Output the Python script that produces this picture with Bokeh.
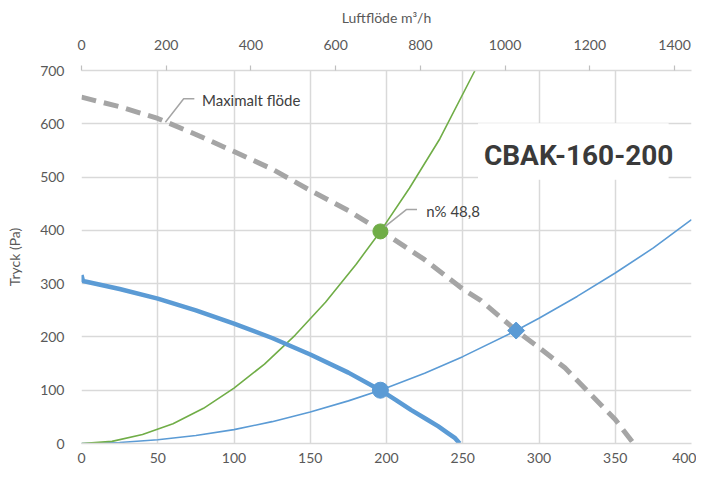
from bokeh.plotting import figure
from bokeh.models import Range1d, LinearAxis, SingleIntervalTicker, Label, BoxAnnotation
from bokeh.embed import file_html
from bokeh.resources import INLINE

# ---- data (flow in l/s, pressure in Pa) ----
max_flow_x = [0, 25, 50, 75, 100, 125, 150, 175, 196, 225, 250, 262, 285, 300, 317, 331, 350, 362]
max_flow_y = [650, 632, 610, 580, 548, 515, 475, 437, 400, 345, 290, 268, 212, 180, 142, 101, 45, 0]

fan_x = [0, 1, 25, 50, 75, 100, 125, 150, 175, 196, 206, 216, 226, 234, 240, 245, 248]
fan_y = [316, 305, 290, 272, 250, 225, 198, 167, 133, 100, 82, 63, 46, 32, 20, 10, 0]

sys_green_x = [0, 20, 40, 60, 80, 100, 120, 140, 160, 180, 196, 215, 235, 258]
sys_green_y = [0, 4, 17, 37, 66, 104, 149, 203, 265, 336, 398, 479, 572, 700]

sys_blue_x = [0, 25, 50, 75, 100, 125, 150, 175, 196, 225, 250, 285, 300, 325, 350, 375, 400]
sys_blue_y = [0, 2, 7, 15, 26, 41, 59, 80, 100, 132, 163, 212, 235, 276, 320, 367, 420]

green_pt_x = [196]
green_pt_y = [398]
blue_pt_x = [196]
blue_pt_y = [100]
diamond_x = [285]
diamond_y = [212]

LS_TO_M3H = 3.6
x_max = 400
y_max = 700

GRID = "#d9d9d9"
TXT = "#595959"
FONT = "Lato"

p = figure(width=696, height=465, output_backend="svg", toolbar_location=None,
           x_range=Range1d(0, x_max), y_range=Range1d(0, y_max),
           min_border_left=81, min_border_right=5, min_border_top=70, min_border_bottom=20,
           x_axis_location="below", y_axis_location="left")
p.outline_line_color = None
p.background_fill_color = "white"
p.border_fill_color = "white"

p.extra_x_ranges = {"m3h": Range1d(0, x_max * LS_TO_M3H)}

# bottom axis
xa = p.xaxis[0]
xa.ticker = SingleIntervalTicker(interval=50)
xa.axis_line_color = GRID
xa.axis_line_width = 1.5
xa.major_tick_line_color = None
xa.minor_tick_line_color = None
xa.major_label_text_font = FONT
xa.major_label_text_font_size = "14px"
xa.major_label_text_color = TXT
xa.major_label_standoff = 3

# left axis
ya = p.yaxis[0]
ya.ticker = SingleIntervalTicker(interval=100)
ya.axis_line_color = None
ya.major_tick_line_color = None
ya.minor_tick_line_color = None
ya.major_label_text_font = FONT
ya.major_label_text_font_size = "14px"
ya.major_label_text_color = TXT
ya.major_label_standoff = 11
ya.axis_label = "Tryck (Pa)"
ya.axis_label_text_font = FONT
ya.axis_label_text_font_size = "14px"
ya.axis_label_text_font_style = "normal"
ya.axis_label_text_color = TXT
ya.axis_label_standoff = 14

# top axis
ta = LinearAxis(x_range_name="m3h", ticker=SingleIntervalTicker(interval=200))
ta.axis_line_color = GRID
ta.axis_line_width = 1.5
ta.major_tick_line_color = "#bfbfbf"
ta.major_tick_line_width = 1.2
ta.major_tick_in = 0
ta.major_tick_out = 5
ta.minor_tick_line_color = None
ta.major_label_text_font = FONT
ta.major_label_text_font_size = "14px"
ta.major_label_text_color = TXT
ta.major_label_standoff = 16
ta.axis_label = "Luftflöde m³/h"
ta.axis_label_text_font = FONT
ta.axis_label_text_font_size = "14px"
ta.axis_label_text_font_style = "normal"
ta.axis_label_text_color = TXT
ta.axis_label_standoff = 11
p.add_layout(ta, "above")

p.xgrid.grid_line_color = GRID
p.xgrid.grid_line_width = 1.5
p.ygrid.grid_line_color = GRID
p.ygrid.grid_line_width = 1.5

# title box
p.add_layout(BoxAnnotation(left=260, right=385, bottom=495, top=601,
                           fill_color="white", fill_alpha=1.0, line_color=None,
                           level="underlay"))

# curves
p.line(sys_blue_x, sys_blue_y, line_color="#5b9bd5", line_width=1.6)
p.line(sys_green_x, sys_green_y, line_color="#70ad47", line_width=1.6)
p.line(max_flow_x, max_flow_y, line_color="#a5a5a5", line_width=5, line_dash="15 8")
p.line(fan_x, fan_y, line_color="#5b9bd5", line_width=4.5)

p.scatter(green_pt_x, green_pt_y, size=15, color="#70ad47")
p.scatter(blue_pt_x, blue_pt_y, size=16, color="#5b9bd5")
p.scatter(diamond_x, diamond_y, marker="square", angle=0.785398, size=12, color="#5b9bd5")

# leader lines + annotation texts
p.line([55, 67, 74], [603, 647, 647], line_color="#a5a5a5", line_width=1.5)
p.add_layout(Label(x=79, y=644, text="Maximalt flöde", text_font=FONT, text_font_size="15px",
                   text_color="#404040", text_baseline="middle"))
p.line([199, 213, 220], [407, 439, 439], line_color="#a5a5a5", line_width=1.5)
p.add_layout(Label(x=226, y=437, text="n% 48,8", text_font=FONT, text_font_size="15px",
                   text_color="#404040", text_baseline="middle"))

p.add_layout(Label(x=326, y=541, text="CBAK-160-200",
                   text_font="Roboto", text_font_size="28px", text_font_style="bold",
                   text_color="#3a3a3a", text_align="center", text_baseline="middle"))

open("out.html", "w").write(file_html(p, INLINE))
